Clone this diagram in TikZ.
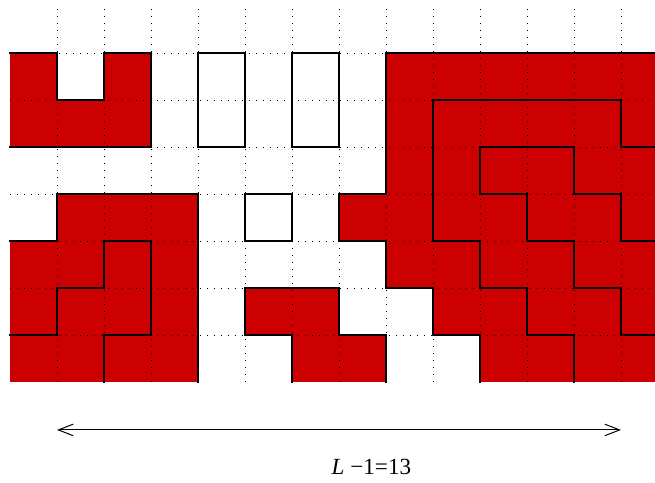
\documentclass[tikz,border=0pt]{standalone}
\usepackage{fontspec}
\setmainfont{Liberation Serif}
\usetikzlibrary{arrows.meta}
\definecolor{cellred}{RGB}{204,0,0}
\begin{document}
\begin{tikzpicture}[x=1cm,y=1cm,
  cluster/.style={fill=cellred},
  gridline/.style={line width=0.55pt, dash pattern=on 0.55pt off 3.7pt},
  border/.style={line width=1.8pt, line join=miter, line cap=rect},
  dimline/.style={line width=0.6pt, {Straight Barb[length=9pt,width=7pt]}-{Straight Barb[length=9pt,width=7pt]}},
  lengthtext/.style={font=\fontsize{14}{16}\selectfont, inner sep=0pt}
]
\useasboundingbox (-0.2128,-2.1489) rectangle (13.7234,8.1277);
\clip (-0.2128,-2.1489) rectangle (13.7234,8.1277);
% red clusters
\fill[cluster] (0,5) -- (3,5) -- (3,7) -- (2,7) -- (2,6) -- (1,6) -- (1,7) -- (0,7) -- cycle;
\fill[cluster] (0,0) -- (4,0) -- (4,4) -- (1,4) -- (1,3) -- (0,3) -- cycle;
\fill[cluster] (5,1) -- (5,2) -- (7,2) -- (7,1) -- (8,1) -- (8,0) -- (6,0) -- (6,1) -- cycle;
\fill[cluster] (8,7) -- (14,7) -- (14,0) -- (10,0) -- (10,1) -- (9,1) -- (9,2) -- (8,2) -- (8,3) -- (7,3) -- (7,4) -- (8,4) -- cycle;
% dotted lattice
\foreach \i in {1,...,13} \draw[gridline] (\i,0) -- (\i,8);
\foreach \j in {1,...,7} \draw[gridline] (0,\j) -- (14,\j);
% cluster borders
\draw[border] (0,7) -- (1,7) -- (1,6) -- (2,6) -- (2,7) -- (3,7) -- (3,5) -- (0,5);
\draw[border] (4,5) rectangle (5,7);
\draw[border] (6,5) rectangle (7,7);
\draw[border] (5,3) rectangle (6,4);
\draw[border] (0,3) -- (1,3) -- (1,4) -- (4,4) -- (4,0);
\draw[border] (0,1) -- (1,1) -- (1,2) -- (2,2) -- (2,3) -- (3,3) -- (3,1) -- (2,1) -- (2,0);
\draw[border] (6,0) -- (6,1) -- (5,1) -- (5,2) -- (7,2) -- (7,1) -- (8,1) -- (8,0);
\draw[border] (14,7) -- (8,7) -- (8,4) -- (7,4) -- (7,3) -- (8,3) -- (8,2) -- (9,2) -- (9,1) -- (10,1) -- (10,0);
\draw[border] (14,5) -- (13,5) -- (13,6) -- (9,6) -- (9,3) -- (10,3) -- (10,2) -- (11,2) -- (11,1) -- (12,1) -- (12,0);
\draw[border] (14,3) -- (13,3) -- (13,4) -- (12,4) -- (12,5) -- (10,5) -- (10,4) -- (11,4) -- (11,3) -- (12,3) -- (12,2) -- (13,2) -- (13,1) -- (14,1);
% length marker
\coordinate (al) at (1,-1.02);
\coordinate (ar) at (13,-1.02);
\draw[dimline] (al) -- (ar);
\node[lengthtext] (len) at (7.69,-1.80) {\textit{L} −1=13};
\end{tikzpicture}
\end{document}
